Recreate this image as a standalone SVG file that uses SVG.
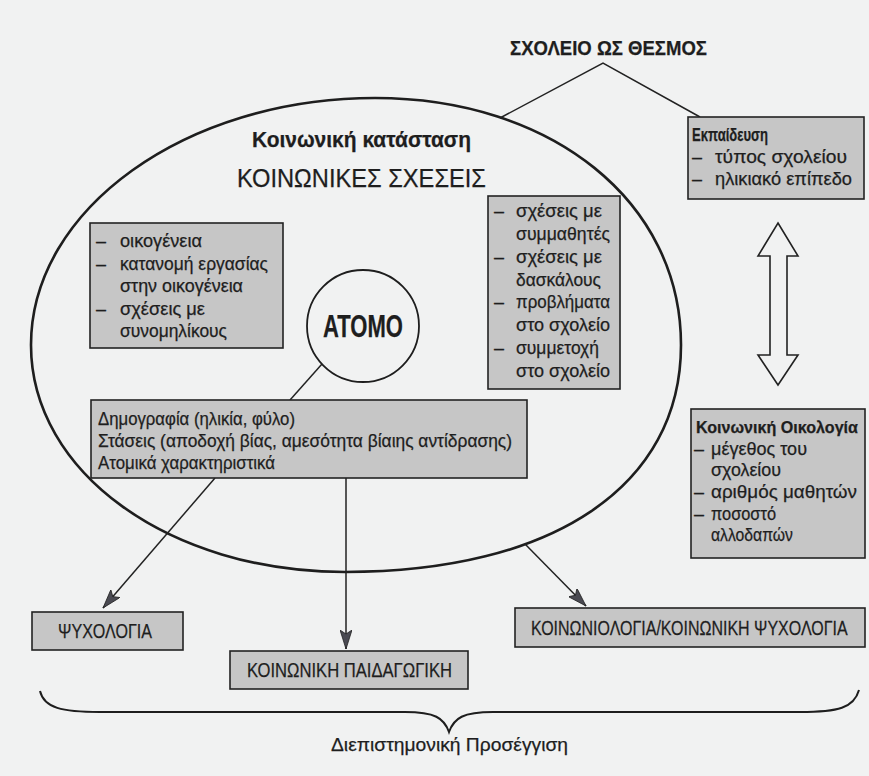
<svg xmlns="http://www.w3.org/2000/svg" width="869" height="776" viewBox="0 0 869 776">
<style>
text{font-family:"Liberation Sans",Arial,sans-serif;fill:#1e1e1e;stroke:#1e1e1e;stroke-width:0.25}
.b{font-size:18px}
.bd{font-size:18px;font-weight:bold}
.cap{font-size:21px}
.box{fill:#c6c6c6;stroke:#222;stroke-width:1.6}
.ln{stroke:#222;stroke-width:1.5;fill:none}
</style>
<defs>
<marker id="ah" markerUnits="userSpaceOnUse" markerWidth="20" markerHeight="12" viewBox="0 0 20 12" refX="19" refY="6" orient="auto">
<path d="M0,0 L19,6 L0,12 L4,6 Z" fill="#4a4a52" stroke="#222" stroke-width="0.8"/>
</marker>
</defs>
<rect width="869" height="776" fill="#f1f2f2"/>

<g id="title">
<text x="510" y="55" class="cap" font-weight="bold" textLength="197" lengthAdjust="spacingAndGlyphs">ΣΧΟΛΕΙΟ ΩΣ ΘΕΣΜΟΣ</text>
</g>

<g id="social-ellipse">
<path d="M375,98 C552,98 681,202 681,345 C681,486 553,572 345,572 C169,572 31,472 31,345 C31,209 186,98 375,98 Z" fill="none" stroke="#1e1e1e" stroke-width="2.6"/>
<text x="252" y="147" font-size="22" font-weight="bold" textLength="219" lengthAdjust="spacingAndGlyphs">Κοινωνική κατάσταση</text>
<text x="237" y="187" font-size="26" textLength="249" lengthAdjust="spacingAndGlyphs">ΚΟΙΝΩΝΙΚΕΣ ΣΧΕΣΕΙΣ</text>
</g>

<g id="connectors">
<polyline class="ln" points="500,118 603,63 700,117"/>
<line class="ln" x1="322" y1="364" x2="290" y2="400"/>
<line class="ln" x1="215" y1="478" x2="103" y2="608" marker-end="url(#ah)"/>
<line class="ln" x1="346" y1="478" x2="346" y2="649" marker-end="url(#ah)"/>
<line class="ln" x1="525" y1="544" x2="586" y2="606" marker-end="url(#ah)"/>
<polygon points="778,223 798,256 787,256 787,355 798,355 778,385 758,355 770,355 770,256 758,256" fill="#f1f2f2" stroke="#222" stroke-width="1.6" stroke-linejoin="miter"/>
</g>

<g id="family-box">
<rect class="box" x="90" y="223" width="193" height="125"/>
<text class="b" x="96" y="247">–</text>
<text class="b" x="120" y="247" textLength="82" lengthAdjust="spacingAndGlyphs">οικογένεια</text>
<text class="b" x="96" y="270">–</text>
<text class="b" x="120" y="270" textLength="148" lengthAdjust="spacingAndGlyphs">κατανομή εργασίας</text>
<text class="b" x="120" y="292" textLength="123" lengthAdjust="spacingAndGlyphs">στην οικογένεια</text>
<text class="b" x="96" y="315">–</text>
<text class="b" x="120" y="315" textLength="85" lengthAdjust="spacingAndGlyphs">σχέσεις με</text>
<text class="b" x="120" y="337" textLength="107" lengthAdjust="spacingAndGlyphs">συνομηλίκους</text>
</g>

<g id="school-box">
<rect class="box" x="488" y="196" width="132" height="193"/>
<text class="b" x="494" y="217">–</text>
<text class="b" x="516" y="217" textLength="86" lengthAdjust="spacingAndGlyphs">σχέσεις με</text>
<text class="b" x="516" y="240" textLength="94" lengthAdjust="spacingAndGlyphs">συμμαθητές</text>
<text class="b" x="494" y="263">–</text>
<text class="b" x="516" y="263" textLength="86" lengthAdjust="spacingAndGlyphs">σχέσεις με</text>
<text class="b" x="516" y="286" textLength="85" lengthAdjust="spacingAndGlyphs">δασκάλους</text>
<text class="b" x="494" y="308">–</text>
<text class="b" x="516" y="308" textLength="94" lengthAdjust="spacingAndGlyphs">προβλήματα</text>
<text class="b" x="516" y="331" textLength="94" lengthAdjust="spacingAndGlyphs">στο σχολείο</text>
<text class="b" x="494" y="354">–</text>
<text class="b" x="516" y="354" textLength="83" lengthAdjust="spacingAndGlyphs">συμμετοχή</text>
<text class="b" x="516" y="377" textLength="94" lengthAdjust="spacingAndGlyphs">στο σχολείο</text>
</g>

<g id="atomo">
<circle cx="363" cy="326" r="56" fill="#f1f2f2" stroke="#1e1e1e" stroke-width="1.8"/>
<text x="363" y="337" font-size="31" font-weight="bold" text-anchor="middle" textLength="80" lengthAdjust="spacingAndGlyphs">ATOMO</text>
</g>

<g id="demography-box">
<rect class="box" x="91" y="400" width="436" height="78"/>
<text class="b" x="98" y="425" textLength="197" lengthAdjust="spacingAndGlyphs">Δημογραφία (ηλικία, φύλο)</text>
<text class="b" x="98" y="447" textLength="414" lengthAdjust="spacingAndGlyphs">Στάσεις (αποδοχή βίας, αμεσότητα βίαιης αντίδρασης)</text>
<text class="b" x="98" y="469" textLength="177" lengthAdjust="spacingAndGlyphs">Ατομικά χαρακτηριστικά</text>
</g>

<g id="education-box">
<rect class="box" x="688" y="117" width="176" height="82"/>
<text class="bd" x="692" y="141" textLength="76" lengthAdjust="spacingAndGlyphs">Εκπαίδευση</text>
<text class="b" x="692" y="163">–</text>
<text class="b" x="715" y="163" textLength="132" lengthAdjust="spacingAndGlyphs">τύπος σχολείου</text>
<text class="b" x="692" y="185">–</text>
<text class="b" x="715" y="185" textLength="137" lengthAdjust="spacingAndGlyphs">ηλικιακό επίπεδο</text>
</g>

<g id="ecology-box">
<rect class="box" x="691" y="409" width="174" height="149"/>
<text x="696" y="433" font-size="16.5" font-weight="bold" textLength="162" lengthAdjust="spacingAndGlyphs">Κοινωνική Οικολογία</text>
<text class="b" x="694" y="455">–</text>
<text class="b" x="711" y="455" textLength="96" lengthAdjust="spacingAndGlyphs">μέγεθος του</text>
<text class="b" x="711" y="476" textLength="70" lengthAdjust="spacingAndGlyphs">σχολείου</text>
<text class="b" x="694" y="498">–</text>
<text class="b" x="711" y="498" textLength="146" lengthAdjust="spacingAndGlyphs">αριθμός μαθητών</text>
<text class="b" x="694" y="520">–</text>
<text class="b" x="711" y="520" textLength="65" lengthAdjust="spacingAndGlyphs">ποσοστό</text>
<text class="b" x="711" y="541" textLength="82" lengthAdjust="spacingAndGlyphs">αλλοδαπών</text>
</g>

<g id="psychology-box">
<rect class="box" x="32" y="612" width="151" height="38"/>
<text class="cap" x="58" y="638" textLength="94" lengthAdjust="spacingAndGlyphs">ΨΥΧΟΛΟΓΙΑ</text>
</g>

<g id="pedagogy-box">
<rect class="box" x="230" y="651" width="238" height="38"/>
<text class="cap" x="247" y="677" textLength="205" lengthAdjust="spacingAndGlyphs">ΚΟΙΝΩΝΙΚΗ ΠΑΙΔΑΓΩΓΙΚΗ</text>
</g>

<g id="sociology-box">
<rect class="box" x="515" y="608" width="350" height="39"/>
<text class="cap" transform="translate(531,635) scale(0.762,1)" x="0" y="0">ΚΟΙΝΩΝΙΟΛΟΓΙΑ/ΚΟΙΝΩΝΙΚΗ ΨΥΧΟΛΟΓΙΑ</text>
</g>

<g id="interdisciplinary">
<path d="M40,691 C44,708 62,712 100,712 L405,712 C435,712 444,718 449,732 C454,718 463,712 493,712 L800,712 C838,712 854,708 859,690" fill="none" stroke="#1e1e1e" stroke-width="2"/>
<text x="449.5" y="751" font-size="19" text-anchor="middle" textLength="237" lengthAdjust="spacingAndGlyphs">Διεπιστημονική Προσέγγιση</text>
</g>
</svg>
